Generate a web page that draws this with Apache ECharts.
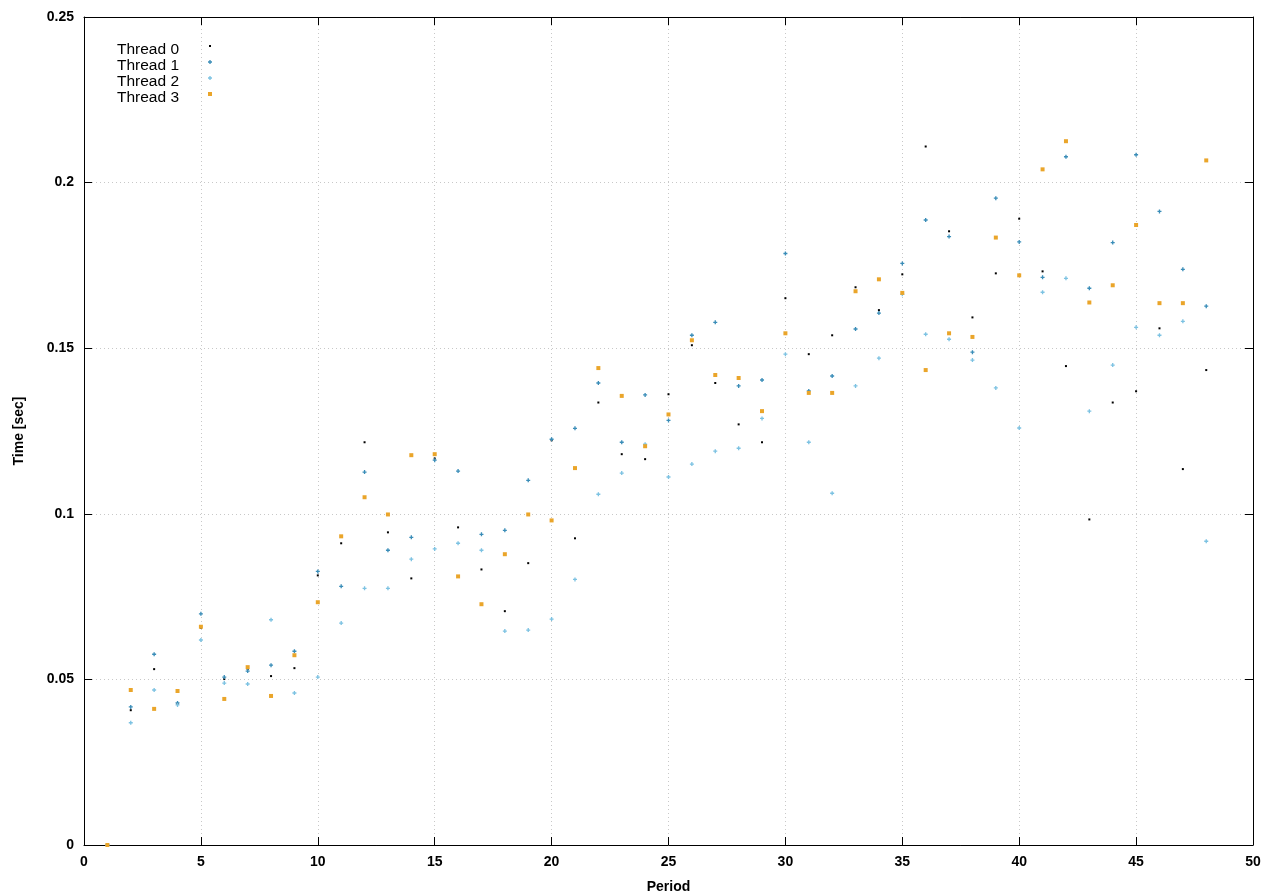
<!DOCTYPE html>
<html>
<head>
<meta charset="utf-8">
<script src="https://cdn.jsdelivr.net/npm/echarts@6/dist/echarts.min.js"></script>
<style>html,body{margin:0;padding:0;background:#fff}#c{width:1280px;height:896px}</style>
</head>
<body>
<div id="c"></div>
<script>
const periods = [1,2,3,4,5,6,7,8,9,10,11,12,13,14,15,16,17,18,19,20,21,22,23,24,25,26,27,28,29,30,31,32,33,34,35,36,37,38,39,40,41,42,43,44,45,46,47,48];
const thread0 = [0,0.0407,0.0531,0.0426,0.0656,0.0501,0.0531,0.0510,0.0534,0.0814,0.0911,0.1216,0.0944,0.0805,0.1167,0.0959,0.0832,0.0706,0.0851,0.1222,0.0926,0.1336,0.1180,0.1165,0.1361,0.1509,0.1395,0.1270,0.1216,0.1651,0.1482,0.1539,0.1684,0.1615,0.1723,0.2109,0.1853,0.1593,0.1726,0.1891,0.1732,0.1446,0.0983,0.1336,0.1370,0.1560,0.1135,0.1434];
const thread1 = [0,0.0417,0.0576,0.0429,0.0698,0.0507,0.0525,0.0543,0.0585,0.0826,0.0781,0.1126,0.0890,0.0929,0.1162,0.1129,0.0938,0.0950,0.1101,0.1225,0.1258,0.1395,0.1216,0.1359,0.1282,0.1539,0.1578,0.1386,0.1404,0.1786,0.1371,0.1416,0.1558,0.1606,0.1756,0.1887,0.1837,0.1488,0.1953,0.1821,0.1714,0.2078,0.1681,0.1819,0.2084,0.1913,0.1738,0.1627];
const thread2 = [0,0.0369,0.0468,0.0423,0.0619,0.0489,0.0486,0.0680,0.0459,0.0507,0.0670,0.0775,0.0775,0.0863,0.0894,0.0911,0.0890,0.0646,0.0649,0.0682,0.0802,0.1059,0.1123,0.1210,0.1111,0.1150,0.1189,0.1198,0.1288,0.1482,0.1216,0.1062,0.1386,0.1470,0.1663,0.1542,0.1527,0.1464,0.1380,0.1259,0.1669,0.1711,0.1310,0.1449,0.1563,0.1539,0.1581,0.0917];
const thread3 = [0,0.0468,0.0411,0.0465,0.0659,0.0441,0.0537,0.0450,0.0573,0.0733,0.0932,0.1050,0.0998,0.1177,0.1180,0.0811,0.0727,0.0878,0.0998,0.0980,0.1138,0.1440,0.1356,0.1204,0.1300,0.1524,0.1419,0.1410,0.1310,0.1545,0.1365,0.1365,0.1672,0.1708,0.1667,0.1434,0.1545,0.1534,0.1834,0.1720,0.2040,0.2125,0.1638,0.1690,0.1872,0.1636,0.1636,0.2067];
const seriesNames = ['Thread 0','Thread 1','Thread 2','Thread 3'];
const xTicks = {min:0, max:50, interval:5};
const yTicks = {min:0, max:0.25, interval:0.05};

const plus = 'path://M1,0H2V1H3V2H2V3H1V2H0V1H1Z';
const square = 'path://M0,0H1V1H0Z';
const styles = [
  {symbol:'rect', legendIcon:square, size:2, color:'#000000'},
  {symbol:plus, legendIcon:plus, size:4, color:'#3a8db8'},
  {symbol:plus, legendIcon:plus, size:4, color:'#7cc2e2'},
  {symbol:'rect', legendIcon:square, size:4, color:'#eaa52a'}
];
const allData = [thread0, thread1, thread2, thread3];

const font = '"Liberation Sans", Arial, Helvetica, sans-serif';
const gridLine = {show:true, lineStyle:{color:'#c8c8c8', width:1, type:[1,3]}};
const axisBase = {
  axisLine:{show:true, onZero:false, lineStyle:{color:'#000', width:1}},
  axisTick:{show:true, inside:true, length:8, lineStyle:{color:'#000'}}
};

// text-only legend entries (icons hidden)
const textLegends = seriesNames.map((n, i) => ({
  orient:'vertical', left:117, top:42 + 16 * i, align:'right', padding:0,
  itemWidth:2, itemHeight:2, itemGap:0, selectedMode:false,
  textStyle:{fontFamily:font, fontSize:15.5, color:'#000', lineHeight:16},
  data:[{name:n, icon:square, itemStyle:{opacity:0}}]
}));
// icon-only legend entries
const iconLegends = seriesNames.map((n, i) => ({
  orient:'vertical', left:210 - styles[i].size / 2, top:46 + 16 * i - styles[i].size / 2,
  align:'left', padding:0,
  itemWidth:styles[i].size, itemHeight:styles[i].size, itemGap:0, selectedMode:false,
  formatter:() => '',
  textStyle:{fontSize:1, lineHeight:1},
  data:[{name:n, icon:styles[i].legendIcon}]
}));

const chart = echarts.init(document.getElementById('c'), null, {renderer:'canvas'});
chart.setOption({
  animation:false,
  backgroundColor:'#fff',
  grid:{left:84, right:27, top:17, bottom:51, containLabel:false, outerBoundsMode:'none'},
  legend:textLegends.concat(iconLegends),
  xAxis:[Object.assign({
    type:'value', min:xTicks.min, max:xTicks.max, interval:xTicks.interval,
    name:'Period', nameLocation:'middle', nameGap:35,
    nameTextStyle:{fontFamily:font, fontSize:14, fontWeight:'bold', color:'#000'},
    axisLabel:{fontFamily:font, fontSize:14, fontWeight:'bold', color:'#000', margin:10},
    splitLine:gridLine
  }, axisBase), Object.assign({
    type:'value', position:'top', min:xTicks.min, max:xTicks.max, interval:xTicks.interval,
    axisLabel:{show:false}, splitLine:{show:false}
  }, axisBase)],
  yAxis:[Object.assign({
    type:'value', min:yTicks.min, max:yTicks.max, interval:yTicks.interval,
    name:'Time [sec]', nameLocation:'middle', nameGap:58, nameRotate:90,
    nameTextStyle:{fontFamily:font, fontSize:14, fontWeight:'bold', color:'#000'},
    axisLabel:{fontFamily:font, fontSize:14, fontWeight:'bold', color:'#000', margin:10},
    splitLine:gridLine
  }, axisBase), Object.assign({
    type:'value', position:'right', min:yTicks.min, max:yTicks.max, interval:yTicks.interval,
    axisLabel:{show:false}, splitLine:{show:false}
  }, axisBase)],
  series: allData.map((arr, i) => ({
    name: seriesNames[i],
    type:'scatter',
    xAxisIndex:0, yAxisIndex:0,
    symbol: styles[i].symbol,
    symbolSize: styles[i].size,
    itemStyle:{color: styles[i].color, opacity:1},
    emphasis:{disabled:true},
    clip:false,
    data: periods.map((p, k) => [p, arr[k]])
  }))
});
</script>
</body>
</html>
